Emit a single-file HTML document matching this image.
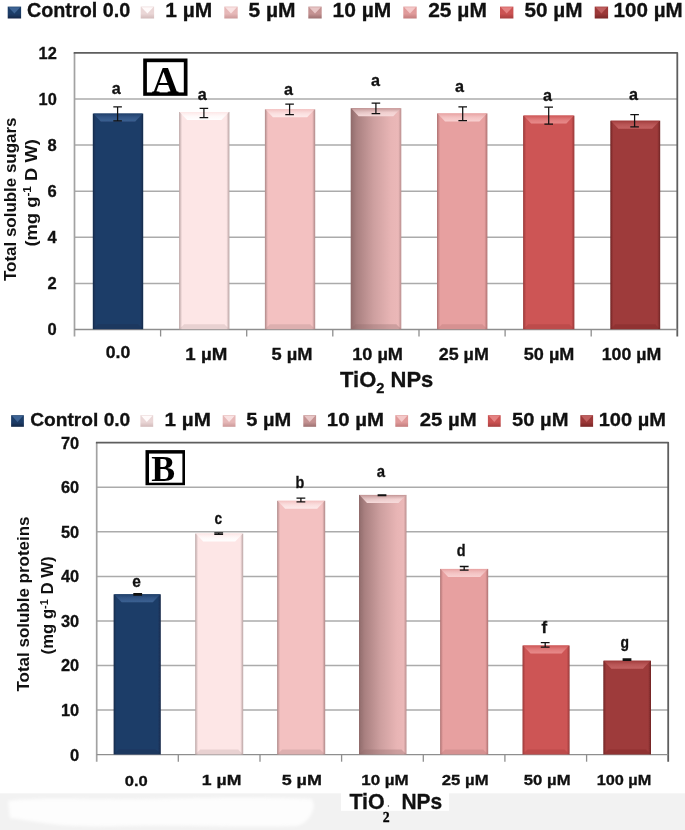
<!DOCTYPE html>
<html lang="en"><head><meta charset="utf-8"><title>TiO2 NPs chart</title>
<style>
html,body{margin:0;padding:0;background:#fff;}
body{width:685px;height:830px;overflow:hidden;}
svg{display:block;font-family:"Liberation Sans", "DejaVu Sans", sans-serif;}
</style></head><body>
<svg width="685" height="830" viewBox="0 0 685 830">
<defs>
<linearGradient id="g10" x1="0" y1="0" x2="1" y2="0"><stop offset="0" stop-color="#8f6a6a"/><stop offset="0.12" stop-color="#a98080"/><stop offset="0.45" stop-color="#cd9f9f"/><stop offset="0.8" stop-color="#e8b5b5"/><stop offset="0.94" stop-color="#ebb8b8"/><stop offset="1" stop-color="#b98e8e"/></linearGradient>
<linearGradient id="e0" x1="0" y1="0" x2="1" y2="0"><stop offset="0" stop-color="#152a4a"/><stop offset="0.06" stop-color="#1f3d68"/><stop offset="0.94" stop-color="#1f3d68"/><stop offset="1" stop-color="#152a4a"/></linearGradient>
<linearGradient id="e1" x1="0" y1="0" x2="1" y2="0"><stop offset="0" stop-color="#b9a3a3"/><stop offset="0.06" stop-color="#fde6e6"/><stop offset="0.94" stop-color="#fde6e6"/><stop offset="1" stop-color="#b9a3a3"/></linearGradient>
<linearGradient id="e2" x1="0" y1="0" x2="1" y2="0"><stop offset="0" stop-color="#ad8888"/><stop offset="0.06" stop-color="#f3c1c1"/><stop offset="0.94" stop-color="#f3c1c1"/><stop offset="1" stop-color="#ad8888"/></linearGradient>
<linearGradient id="e4" x1="0" y1="0" x2="1" y2="0"><stop offset="0" stop-color="#ae7272"/><stop offset="0.06" stop-color="#e7a0a0"/><stop offset="0.94" stop-color="#e7a0a0"/><stop offset="1" stop-color="#ae7272"/></linearGradient>
<linearGradient id="e5" x1="0" y1="0" x2="1" y2="0"><stop offset="0" stop-color="#973838"/><stop offset="0.06" stop-color="#cd5555"/><stop offset="0.94" stop-color="#cd5555"/><stop offset="1" stop-color="#973838"/></linearGradient>
<linearGradient id="e6" x1="0" y1="0" x2="1" y2="0"><stop offset="0" stop-color="#702424"/><stop offset="0.06" stop-color="#9e3a3a"/><stop offset="0.94" stop-color="#9e3a3a"/><stop offset="1" stop-color="#702424"/></linearGradient>
<linearGradient id="bv0" x1="0" y1="0" x2="0" y2="1"><stop offset="0" stop-color="#1f3d68"/><stop offset="0.55" stop-color="#3b6092" stop-opacity="0.75"/><stop offset="1" stop-color="#3b6092"/></linearGradient>
<linearGradient id="bv1" x1="0" y1="0" x2="0" y2="1"><stop offset="0" stop-color="#fde6e6"/><stop offset="0.55" stop-color="#ffffff" stop-opacity="0.75"/><stop offset="1" stop-color="#ffffff"/></linearGradient>
<linearGradient id="bv2" x1="0" y1="0" x2="0" y2="1"><stop offset="0" stop-color="#f3c1c1"/><stop offset="0.55" stop-color="#fdeaea" stop-opacity="0.75"/><stop offset="1" stop-color="#fdeaea"/></linearGradient>
<linearGradient id="bv3" x1="0" y1="0" x2="0" y2="1"><stop offset="0" stop-color="#c09292"/><stop offset="0.55" stop-color="#f6dada" stop-opacity="0.75"/><stop offset="1" stop-color="#f6dada"/></linearGradient>
<linearGradient id="bv4" x1="0" y1="0" x2="0" y2="1"><stop offset="0" stop-color="#e7a0a0"/><stop offset="0.55" stop-color="#f8d0d0" stop-opacity="0.75"/><stop offset="1" stop-color="#f8d0d0"/></linearGradient>
<linearGradient id="bv5" x1="0" y1="0" x2="0" y2="1"><stop offset="0" stop-color="#cd5555"/><stop offset="0.55" stop-color="#e88a8a" stop-opacity="0.75"/><stop offset="1" stop-color="#e88a8a"/></linearGradient>
<linearGradient id="bv6" x1="0" y1="0" x2="0" y2="1"><stop offset="0" stop-color="#9e3a3a"/><stop offset="0.55" stop-color="#c46262" stop-opacity="0.75"/><stop offset="1" stop-color="#c46262"/></linearGradient>
<filter id="soft2" x="-5%" y="-20%" width="110%" height="140%"><feGaussianBlur stdDeviation="1.5"/></filter>
<filter id="soft" x="-5%" y="-5%" width="110%" height="110%"><feGaussianBlur stdDeviation="0.5"/></filter>
<linearGradient id="m0" x1="0" y1="0" x2="0" y2="1"><stop offset="0" stop-color="#1f3d68"/><stop offset="0.6" stop-color="#1f3d68"/><stop offset="1" stop-color="#132646"/></linearGradient>
<linearGradient id="m1" x1="0" y1="0" x2="0" y2="1"><stop offset="0" stop-color="#ead6d6"/><stop offset="0.6" stop-color="#ead6d6"/><stop offset="1" stop-color="#d2baba"/></linearGradient>
<linearGradient id="m2" x1="0" y1="0" x2="0" y2="1"><stop offset="0" stop-color="#e6b8b8"/><stop offset="0.6" stop-color="#e6b8b8"/><stop offset="1" stop-color="#cc9999"/></linearGradient>
<linearGradient id="m3" x1="0" y1="0" x2="0" y2="1"><stop offset="0" stop-color="#c49292"/><stop offset="0.6" stop-color="#c49292"/><stop offset="1" stop-color="#9c7070"/></linearGradient>
<linearGradient id="m4" x1="0" y1="0" x2="0" y2="1"><stop offset="0" stop-color="#e09a9a"/><stop offset="0.6" stop-color="#e09a9a"/><stop offset="1" stop-color="#c27c7c"/></linearGradient>
<linearGradient id="m5" x1="0" y1="0" x2="0" y2="1"><stop offset="0" stop-color="#cb5252"/><stop offset="0.6" stop-color="#cb5252"/><stop offset="1" stop-color="#a63e3e"/></linearGradient>
<linearGradient id="m6" x1="0" y1="0" x2="0" y2="1"><stop offset="0" stop-color="#9c3838"/><stop offset="0.6" stop-color="#9c3838"/><stop offset="1" stop-color="#782626"/></linearGradient>
</defs>
<rect x="0" y="0" width="685" height="830" fill="#fff"/>
<rect x="0" y="793.3" width="685" height="37" fill="#f2f2f2"/>
<rect x="341" y="792.5" width="108" height="18.3" fill="#fff"/>
<path d="M8,801 C40,797 90,800 150,799 S260,797 312,799 L314,806 C312,816 306,824 296,826 C240,828 180,824 120,826 S40,822 10,818 Z" fill="#fdfdfd" filter="url(#soft2)"/>
<line x1="74.5" y1="283.4" x2="677.3" y2="283.4" stroke="#ababab" stroke-width="1.5"/>
<line x1="74.5" y1="237.3" x2="677.3" y2="237.3" stroke="#ababab" stroke-width="1.5"/>
<line x1="74.5" y1="191.2" x2="677.3" y2="191.2" stroke="#ababab" stroke-width="1.5"/>
<line x1="74.5" y1="145.0" x2="677.3" y2="145.0" stroke="#ababab" stroke-width="1.5"/>
<line x1="74.5" y1="98.9" x2="677.3" y2="98.9" stroke="#ababab" stroke-width="1.5"/>
<path d="M74.5,336.5V52.8" stroke="#a2a2a2" stroke-width="1.7" fill="none"/>
<path d="M73.7,52.8H677.3V336.5" stroke="#5e5e5e" stroke-width="1.8" fill="none" stroke-linejoin="round"/>
<line x1="74.5" y1="329.5" x2="677.3" y2="329.5" stroke="#8e8e8e" stroke-width="1.3"/>
<line x1="160.6" y1="329.5" x2="160.6" y2="336.5" stroke="#8e8e8e" stroke-width="1.3"/>
<line x1="246.7" y1="329.5" x2="246.7" y2="336.5" stroke="#8e8e8e" stroke-width="1.3"/>
<line x1="332.8" y1="329.5" x2="332.8" y2="336.5" stroke="#8e8e8e" stroke-width="1.3"/>
<line x1="419.0" y1="329.5" x2="419.0" y2="336.5" stroke="#8e8e8e" stroke-width="1.3"/>
<line x1="505.1" y1="329.5" x2="505.1" y2="336.5" stroke="#8e8e8e" stroke-width="1.3"/>
<line x1="591.2" y1="329.5" x2="591.2" y2="336.5" stroke="#8e8e8e" stroke-width="1.3"/>
<g filter="url(#soft)">
<rect x="92.8" y="113.6" width="50.4" height="215.6" fill="url(#e0)"/>
<polygon points="93.3,113.6 142.7,113.6 135.2,121.6 100.8,121.6" fill="url(#bv0)"/>
<polygon points="92.8,329.2 143.2,329.2 138.2,324.2 97.8,324.2" fill="#152a4a" opacity="0.3"/>
</g>
<g filter="url(#soft)">
<rect x="179.1" y="112.0" width="50.3" height="217.2" fill="url(#e1)"/>
<polygon points="179.6,112.0 228.9,112.0 221.4,120.0 187.1,120.0" fill="url(#bv1)"/>
<polygon points="179.1,329.2 229.4,329.2 224.4,324.2 184.1,324.2" fill="#b9a3a3" opacity="0.3"/>
</g>
<g filter="url(#soft)">
<rect x="264.9" y="109.3" width="50.3" height="219.9" fill="url(#e2)"/>
<polygon points="265.4,109.3 314.7,109.3 307.2,117.3 272.9,117.3" fill="url(#bv2)"/>
<polygon points="264.9,329.2 315.2,329.2 310.2,324.2 269.9,324.2" fill="#ad8888" opacity="0.3"/>
</g>
<g filter="url(#soft)">
<rect x="350.7" y="108.2" width="50.6" height="221.0" fill="url(#g10)"/>
<polygon points="351.2,108.2 400.8,108.2 393.3,116.2 358.7,116.2" fill="url(#bv3)"/>
<polygon points="350.7,329.2 401.3,329.2 396.3,324.2 355.7,324.2" fill="#8a6666" opacity="0.3"/>
</g>
<g filter="url(#soft)">
<rect x="437.0" y="113.4" width="50.4" height="215.8" fill="url(#e4)"/>
<polygon points="437.5,113.4 486.9,113.4 479.4,121.4 445.0,121.4" fill="url(#bv4)"/>
<polygon points="437.0,329.2 487.4,329.2 482.4,324.2 442.0,324.2" fill="#ae7272" opacity="0.3"/>
</g>
<g filter="url(#soft)">
<rect x="523.1" y="115.6" width="51.3" height="213.6" fill="url(#e5)"/>
<polygon points="523.6,115.6 573.9,115.6 566.4,123.6 531.1,123.6" fill="url(#bv5)"/>
<polygon points="523.1,329.2 574.4,329.2 569.4,324.2 528.1,324.2" fill="#973838" opacity="0.3"/>
</g>
<g filter="url(#soft)">
<rect x="610.3" y="120.7" width="49.9" height="208.5" fill="url(#e6)"/>
<polygon points="610.8,120.7 659.7,120.7 652.2,128.7 618.3,128.7" fill="url(#bv6)"/>
<polygon points="610.3,329.2 660.2,329.2 655.2,324.2 615.3,324.2" fill="#702424" opacity="0.3"/>
</g>
<path d="M113.3,106.8H121.9M113.3,120.9H121.9M117.6,106.8V120.9" stroke="#111" stroke-width="1.25" fill="none"/>
<path d="M199.6,108.3H208.2M199.6,117.5H208.2M203.9,108.3V117.5" stroke="#111" stroke-width="1.25" fill="none"/>
<path d="M285.3,104.2H293.9M285.3,114.7H293.9M289.6,104.2V114.7" stroke="#111" stroke-width="1.25" fill="none"/>
<path d="M371.6,103.1H380.2M371.6,113.6H380.2M375.9,103.1V113.6" stroke="#111" stroke-width="1.25" fill="none"/>
<path d="M458.4,106.9H467.0M458.4,120.7H467.0M462.7,106.9V120.7" stroke="#111" stroke-width="1.25" fill="none"/>
<path d="M544.4,107.0H553.0M544.4,124.0H553.0M548.7,107.0V124.0" stroke="#111" stroke-width="1.25" fill="none"/>
<path d="M630.3,114.5H638.9M630.3,126.8H638.9M634.6,114.5V126.8" stroke="#111" stroke-width="1.25" fill="none"/>
<text x="116.3" y="94.2" font-size="17.3" text-anchor="middle" font-weight="bold" fill="#111" stroke="#111" stroke-width="0.3" textLength="9.0" lengthAdjust="spacingAndGlyphs" >a</text>
<text x="202.3" y="99.5" font-size="17.3" text-anchor="middle" font-weight="bold" fill="#111" stroke="#111" stroke-width="0.3" textLength="9.0" lengthAdjust="spacingAndGlyphs" >a</text>
<text x="288.5" y="95.2" font-size="17.3" text-anchor="middle" font-weight="bold" fill="#111" stroke="#111" stroke-width="0.3" textLength="9.0" lengthAdjust="spacingAndGlyphs" >a</text>
<text x="375.5" y="85.5" font-size="17.3" text-anchor="middle" font-weight="bold" fill="#111" stroke="#111" stroke-width="0.3" textLength="9.0" lengthAdjust="spacingAndGlyphs" >a</text>
<text x="459.5" y="92.0" font-size="17.3" text-anchor="middle" font-weight="bold" fill="#111" stroke="#111" stroke-width="0.3" textLength="9.0" lengthAdjust="spacingAndGlyphs" >a</text>
<text x="547.5" y="101.0" font-size="17.3" text-anchor="middle" font-weight="bold" fill="#111" stroke="#111" stroke-width="0.3" textLength="9.0" lengthAdjust="spacingAndGlyphs" >a</text>
<text x="633.5" y="100.0" font-size="17.3" text-anchor="middle" font-weight="bold" fill="#111" stroke="#111" stroke-width="0.3" textLength="9.0" lengthAdjust="spacingAndGlyphs" >a</text>
<text x="56.8" y="335.4" font-size="16" text-anchor="end" font-weight="bold" fill="#111" stroke="#111" stroke-width="0.3" textLength="9.2" lengthAdjust="spacingAndGlyphs" >0</text>
<text x="56.8" y="289.3" font-size="16" text-anchor="end" font-weight="bold" fill="#111" stroke="#111" stroke-width="0.3" textLength="9.2" lengthAdjust="spacingAndGlyphs" >2</text>
<text x="56.8" y="243.2" font-size="16" text-anchor="end" font-weight="bold" fill="#111" stroke="#111" stroke-width="0.3" textLength="9.2" lengthAdjust="spacingAndGlyphs" >4</text>
<text x="56.8" y="197.1" font-size="16" text-anchor="end" font-weight="bold" fill="#111" stroke="#111" stroke-width="0.3" textLength="9.2" lengthAdjust="spacingAndGlyphs" >6</text>
<text x="56.8" y="150.9" font-size="16" text-anchor="end" font-weight="bold" fill="#111" stroke="#111" stroke-width="0.3" textLength="9.2" lengthAdjust="spacingAndGlyphs" >8</text>
<text x="56.8" y="104.8" font-size="16" text-anchor="end" font-weight="bold" fill="#111" stroke="#111" stroke-width="0.3" textLength="18.2" lengthAdjust="spacingAndGlyphs" >10</text>
<text x="56.8" y="58.7" font-size="16" text-anchor="end" font-weight="bold" fill="#111" stroke="#111" stroke-width="0.3" textLength="18.2" lengthAdjust="spacingAndGlyphs" >12</text>
<text x="118.0" y="357.6" font-size="16" text-anchor="middle" font-weight="bold" fill="#111" stroke="#111" stroke-width="0.3" textLength="24.5" lengthAdjust="spacingAndGlyphs" >0.0</text>
<text x="206.3" y="360.0" font-size="16" text-anchor="middle" font-weight="bold" fill="#111" stroke="#111" stroke-width="0.3" textLength="42.0" lengthAdjust="spacingAndGlyphs" >1 µM</text>
<text x="292.0" y="360.0" font-size="16" text-anchor="middle" font-weight="bold" fill="#111" stroke="#111" stroke-width="0.3" textLength="41.0" lengthAdjust="spacingAndGlyphs" >5 µM</text>
<text x="377.6" y="360.0" font-size="16" text-anchor="middle" font-weight="bold" fill="#111" stroke="#111" stroke-width="0.3" textLength="50.8" lengthAdjust="spacingAndGlyphs" >10 µM</text>
<text x="463.8" y="360.0" font-size="16" text-anchor="middle" font-weight="bold" fill="#111" stroke="#111" stroke-width="0.3" textLength="50.0" lengthAdjust="spacingAndGlyphs" >25 µM</text>
<text x="549.1" y="360.0" font-size="16" text-anchor="middle" font-weight="bold" fill="#111" stroke="#111" stroke-width="0.3" textLength="50.5" lengthAdjust="spacingAndGlyphs" >50 µM</text>
<text x="631.5" y="360.0" font-size="16" text-anchor="middle" font-weight="bold" fill="#111" stroke="#111" stroke-width="0.3" textLength="59.6" lengthAdjust="spacingAndGlyphs" >100 µM</text>
<text x="340" y="387" font-size="22.5" font-weight="bold" fill="#111" stroke="#111" stroke-width="0.3" textLength="93.3" lengthAdjust="spacingAndGlyphs">TiO<tspan font-size="15" dy="6.4">2</tspan><tspan dy="-6.4"> NPs</tspan></text>
<text transform="translate(16,281) rotate(-90)" font-size="17" font-weight="bold" fill="#111" textLength="163.5" lengthAdjust="spacingAndGlyphs">Total soluble sugars</text>
<text transform="translate(36.6,246.6) rotate(-90)" font-size="17" font-weight="bold" fill="#111" textLength="107.5" lengthAdjust="spacingAndGlyphs">(mg g<tspan font-size="11" dy="-6">-1</tspan><tspan dy="6"> D W)</tspan></text>
<rect x="143.2" y="58.5" width="44.3" height="37.3" fill="#000"/>
<rect x="146.9" y="62.2" width="36.9" height="30.2" fill="#fff"/>
<text x="165.3" y="92.6" font-size="37.5" text-anchor="middle" font-weight="bold" fill="#000" stroke="#000" stroke-width="0" font-family='"Liberation Serif", "DejaVu Serif", serif' >A</text>
<g filter="url(#soft)"><rect x="7.7" y="6.6" width="13.4" height="11.9" fill="url(#m0)"/>
<polygon points="8.5,7.2 20.3,7.2 14.4,13.5" fill="#3d6494"/></g>
<text x="26.9" y="16.8" font-size="19.8" text-anchor="start" font-weight="bold" fill="#111" stroke="#111" stroke-width="0.3" textLength="103.4" lengthAdjust="spacingAndGlyphs" >Control 0.0</text>
<g filter="url(#soft)"><rect x="140.7" y="6.6" width="13.4" height="11.9" fill="url(#m1)"/>
<polygon points="141.5,7.2 153.3,7.2 147.4,13.5" fill="#fffafa"/></g>
<text x="165.2" y="16.8" font-size="19.8" text-anchor="start" font-weight="bold" fill="#111" stroke="#111" stroke-width="0.3" textLength="47.0" lengthAdjust="spacingAndGlyphs" >1 µM</text>
<g filter="url(#soft)"><rect x="224.3" y="6.6" width="13.4" height="11.9" fill="url(#m2)"/>
<polygon points="225.1,7.2 236.9,7.2 231.0,13.5" fill="#f9e2e2"/></g>
<text x="248.5" y="16.8" font-size="19.8" text-anchor="start" font-weight="bold" fill="#111" stroke="#111" stroke-width="0.3" textLength="47.1" lengthAdjust="spacingAndGlyphs" >5 µM</text>
<g filter="url(#soft)"><rect x="308.3" y="6.6" width="13.4" height="11.9" fill="url(#m3)"/>
<polygon points="309.1,7.2 320.9,7.2 315.0,13.5" fill="#e8c6c6"/></g>
<text x="332.5" y="16.8" font-size="19.8" text-anchor="start" font-weight="bold" fill="#111" stroke="#111" stroke-width="0.3" textLength="58.8" lengthAdjust="spacingAndGlyphs" >10 µM</text>
<g filter="url(#soft)"><rect x="403.3" y="6.6" width="13.4" height="11.9" fill="url(#m4)"/>
<polygon points="404.1,7.2 415.9,7.2 410.0,13.5" fill="#f4c8c8"/></g>
<text x="428.2" y="16.8" font-size="19.8" text-anchor="start" font-weight="bold" fill="#111" stroke="#111" stroke-width="0.3" textLength="58.7" lengthAdjust="spacingAndGlyphs" >25 µM</text>
<g filter="url(#soft)"><rect x="500.0" y="6.6" width="13.4" height="11.9" fill="url(#m5)"/>
<polygon points="500.8,7.2 512.6,7.2 506.7,13.5" fill="#e48282"/></g>
<text x="524.5" y="16.8" font-size="19.8" text-anchor="start" font-weight="bold" fill="#111" stroke="#111" stroke-width="0.3" textLength="58.1" lengthAdjust="spacingAndGlyphs" >50 µM</text>
<g filter="url(#soft)"><rect x="594.7" y="6.6" width="13.4" height="11.9" fill="url(#m6)"/>
<polygon points="595.5,7.2 607.3,7.2 601.4,13.5" fill="#bf5e5e"/></g>
<text x="613.5" y="16.8" font-size="19.8" text-anchor="start" font-weight="bold" fill="#111" stroke="#111" stroke-width="0.3" textLength="69.2" lengthAdjust="spacingAndGlyphs" >100 µM</text>
<line x1="96.7" y1="710.1" x2="668.2" y2="710.1" stroke="#ababab" stroke-width="1.5"/>
<line x1="96.7" y1="665.5" x2="668.2" y2="665.5" stroke="#ababab" stroke-width="1.5"/>
<line x1="96.7" y1="620.9" x2="668.2" y2="620.9" stroke="#ababab" stroke-width="1.5"/>
<line x1="96.7" y1="576.4" x2="668.2" y2="576.4" stroke="#ababab" stroke-width="1.5"/>
<line x1="96.7" y1="531.8" x2="668.2" y2="531.8" stroke="#ababab" stroke-width="1.5"/>
<line x1="96.7" y1="487.2" x2="668.2" y2="487.2" stroke="#ababab" stroke-width="1.5"/>
<path d="M96.7,761.7V442.6" stroke="#a2a2a2" stroke-width="1.7" fill="none"/>
<path d="M95.9,442.6H668.2V761.7" stroke="#5e5e5e" stroke-width="1.8" fill="none" stroke-linejoin="round"/>
<line x1="96.7" y1="754.7" x2="668.2" y2="754.7" stroke="#8e8e8e" stroke-width="1.3"/>
<line x1="178.3" y1="754.7" x2="178.3" y2="761.7" stroke="#8e8e8e" stroke-width="1.3"/>
<line x1="260.0" y1="754.7" x2="260.0" y2="761.7" stroke="#8e8e8e" stroke-width="1.3"/>
<line x1="341.6" y1="754.7" x2="341.6" y2="761.7" stroke="#8e8e8e" stroke-width="1.3"/>
<line x1="423.3" y1="754.7" x2="423.3" y2="761.7" stroke="#8e8e8e" stroke-width="1.3"/>
<line x1="504.9" y1="754.7" x2="504.9" y2="761.7" stroke="#8e8e8e" stroke-width="1.3"/>
<line x1="586.6" y1="754.7" x2="586.6" y2="761.7" stroke="#8e8e8e" stroke-width="1.3"/>
<g filter="url(#soft)">
<rect x="113.6" y="594.3" width="47.2" height="160.1" fill="url(#e0)"/>
<polygon points="114.1,594.3 160.3,594.3 152.8,602.3 121.6,602.3" fill="url(#bv0)"/>
<polygon points="113.6,754.4 160.8,754.4 155.8,749.4 118.6,749.4" fill="#152a4a" opacity="0.3"/>
</g>
<g filter="url(#soft)">
<rect x="195.2" y="533.6" width="48.0" height="220.8" fill="url(#e1)"/>
<polygon points="195.7,533.6 242.7,533.6 235.2,541.6 203.2,541.6" fill="url(#bv1)"/>
<polygon points="195.2,754.4 243.2,754.4 238.2,749.4 200.2,749.4" fill="#b9a3a3" opacity="0.3"/>
</g>
<g filter="url(#soft)">
<rect x="277.1" y="500.8" width="48.1" height="253.6" fill="url(#e2)"/>
<polygon points="277.6,500.8 324.7,500.8 317.2,508.8 285.1,508.8" fill="url(#bv2)"/>
<polygon points="277.1,754.4 325.2,754.4 320.2,749.4 282.1,749.4" fill="#ad8888" opacity="0.3"/>
</g>
<g filter="url(#soft)">
<rect x="359.0" y="494.9" width="47.5" height="259.5" fill="url(#g10)"/>
<polygon points="359.5,494.9 406.0,494.9 398.5,502.9 367.0,502.9" fill="url(#bv3)"/>
<polygon points="359.0,754.4 406.5,754.4 401.5,749.4 364.0,749.4" fill="#8a6666" opacity="0.3"/>
</g>
<g filter="url(#soft)">
<rect x="440.1" y="568.9" width="48.1" height="185.5" fill="url(#e4)"/>
<polygon points="440.6,568.9 487.7,568.9 480.2,576.9 448.1,576.9" fill="url(#bv4)"/>
<polygon points="440.1,754.4 488.2,754.4 483.2,749.4 445.1,749.4" fill="#ae7272" opacity="0.3"/>
</g>
<g filter="url(#soft)">
<rect x="522.5" y="645.5" width="47.1" height="108.9" fill="url(#e5)"/>
<polygon points="523.0,645.5 569.1,645.5 561.6,653.5 530.5,653.5" fill="url(#bv5)"/>
<polygon points="522.5,754.4 569.6,754.4 564.6,749.4 527.5,749.4" fill="#973838" opacity="0.3"/>
</g>
<g filter="url(#soft)">
<rect x="603.3" y="660.7" width="47.7" height="93.7" fill="url(#e6)"/>
<polygon points="603.8,660.7 650.5,660.7 643.0,668.7 611.3,668.7" fill="url(#bv6)"/>
<polygon points="603.3,754.4 651.0,754.4 646.0,749.4 608.3,749.4" fill="#702424" opacity="0.3"/>
</g>
<path d="M133.3,593.6H142.1M133.3,595.0H142.1M137.7,593.6V595.0" stroke="#111" stroke-width="1.3" fill="none"/>
<path d="M214.3,532.9H223.1M214.3,534.3H223.1M218.7,532.9V534.3" stroke="#111" stroke-width="1.3" fill="none"/>
<path d="M296.5,498.2H305.3M296.5,501.9H305.3M300.9,498.2V501.9" stroke="#111" stroke-width="1.3" fill="none"/>
<path d="M377.6,494.8H386.4M377.6,495.7H386.4M382.0,494.8V495.7" stroke="#111" stroke-width="1.3" fill="none"/>
<path d="M459.8,566.5H468.6M459.8,570.2H468.6M464.2,566.5V570.2" stroke="#111" stroke-width="1.3" fill="none"/>
<path d="M540.8,642.7H549.6M540.8,647.2H549.6M545.2,642.7V647.2" stroke="#111" stroke-width="1.3" fill="none"/>
<path d="M622.6,659.0H631.4M622.6,660.4H631.4M627.0,659.0V660.4" stroke="#111" stroke-width="1.3" fill="none"/>
<text x="136.6" y="587.0" font-size="16.3" text-anchor="middle" font-weight="bold" fill="#111" stroke="#111" stroke-width="0.3" textLength="8.6" lengthAdjust="spacingAndGlyphs" >e</text>
<text x="218.2" y="523.9" font-size="16.3" text-anchor="middle" font-weight="bold" fill="#111" stroke="#111" stroke-width="0.3" textLength="7.6" lengthAdjust="spacingAndGlyphs" >c</text>
<text x="299.9" y="488.3" font-size="16.3" text-anchor="middle" font-weight="bold" fill="#111" stroke="#111" stroke-width="0.3" textLength="8.8" lengthAdjust="spacingAndGlyphs" >b</text>
<text x="381.0" y="477.4" font-size="16.3" text-anchor="middle" font-weight="bold" fill="#111" stroke="#111" stroke-width="0.3" textLength="8.3" lengthAdjust="spacingAndGlyphs" >a</text>
<text x="461.2" y="556.4" font-size="16.3" text-anchor="middle" font-weight="bold" fill="#111" stroke="#111" stroke-width="0.3" textLength="8.8" lengthAdjust="spacingAndGlyphs" >d</text>
<text x="544.2" y="633.0" font-size="16.3" text-anchor="middle" font-weight="bold" fill="#111" stroke="#111" stroke-width="0.3" textLength="5.6" lengthAdjust="spacingAndGlyphs" >f</text>
<text x="624.8" y="647.6" font-size="16.3" text-anchor="middle" font-weight="bold" fill="#111" stroke="#111" stroke-width="0.3" textLength="8.5" lengthAdjust="spacingAndGlyphs" >g</text>
<text x="79.2" y="760.6" font-size="16" text-anchor="end" font-weight="bold" fill="#111" stroke="#111" stroke-width="0.3" textLength="9.2" lengthAdjust="spacingAndGlyphs" >0</text>
<text x="79.2" y="716.0" font-size="16" text-anchor="end" font-weight="bold" fill="#111" stroke="#111" stroke-width="0.3" textLength="18.2" lengthAdjust="spacingAndGlyphs" >10</text>
<text x="79.2" y="671.4" font-size="16" text-anchor="end" font-weight="bold" fill="#111" stroke="#111" stroke-width="0.3" textLength="18.2" lengthAdjust="spacingAndGlyphs" >20</text>
<text x="79.2" y="626.8" font-size="16" text-anchor="end" font-weight="bold" fill="#111" stroke="#111" stroke-width="0.3" textLength="18.2" lengthAdjust="spacingAndGlyphs" >30</text>
<text x="79.2" y="582.3" font-size="16" text-anchor="end" font-weight="bold" fill="#111" stroke="#111" stroke-width="0.3" textLength="18.2" lengthAdjust="spacingAndGlyphs" >40</text>
<text x="79.2" y="537.7" font-size="16" text-anchor="end" font-weight="bold" fill="#111" stroke="#111" stroke-width="0.3" textLength="18.2" lengthAdjust="spacingAndGlyphs" >50</text>
<text x="79.2" y="493.1" font-size="16" text-anchor="end" font-weight="bold" fill="#111" stroke="#111" stroke-width="0.3" textLength="18.2" lengthAdjust="spacingAndGlyphs" >60</text>
<text x="79.2" y="448.5" font-size="16" text-anchor="end" font-weight="bold" fill="#111" stroke="#111" stroke-width="0.3" textLength="18.2" lengthAdjust="spacingAndGlyphs" >70</text>
<text x="136.3" y="786.0" font-size="15" text-anchor="middle" font-weight="bold" fill="#111" stroke="#111" stroke-width="0.3" textLength="23.0" lengthAdjust="spacingAndGlyphs" >0.0</text>
<text x="221.6" y="784.8" font-size="15" text-anchor="middle" font-weight="bold" fill="#111" stroke="#111" stroke-width="0.3" textLength="39.6" lengthAdjust="spacingAndGlyphs" >1 µM</text>
<text x="301.8" y="784.8" font-size="15" text-anchor="middle" font-weight="bold" fill="#111" stroke="#111" stroke-width="0.3" textLength="40.3" lengthAdjust="spacingAndGlyphs" >5 µM</text>
<text x="385.0" y="784.8" font-size="15" text-anchor="middle" font-weight="bold" fill="#111" stroke="#111" stroke-width="0.3" textLength="47.6" lengthAdjust="spacingAndGlyphs" >10 µM</text>
<text x="465.2" y="784.8" font-size="15" text-anchor="middle" font-weight="bold" fill="#111" stroke="#111" stroke-width="0.3" textLength="46.8" lengthAdjust="spacingAndGlyphs" >25 µM</text>
<text x="547.2" y="784.8" font-size="15" text-anchor="middle" font-weight="bold" fill="#111" stroke="#111" stroke-width="0.3" textLength="46.8" lengthAdjust="spacingAndGlyphs" >50 µM</text>
<text x="624.0" y="784.8" font-size="15" text-anchor="middle" font-weight="bold" fill="#111" stroke="#111" stroke-width="0.3" textLength="54.7" lengthAdjust="spacingAndGlyphs" >100 µM</text>
<text x="349.4" y="808.6" font-size="22" font-weight="bold" fill="#111" stroke="#111" stroke-width="0.3" textLength="35.4" lengthAdjust="spacingAndGlyphs">TiO</text>
<text x="401.4" y="808.6" font-size="22" font-weight="bold" fill="#111" stroke="#111" stroke-width="0.3" textLength="40.8" lengthAdjust="spacingAndGlyphs">NPs</text>
<text x="386.3" y="822.0" font-size="13.8" text-anchor="middle" font-weight="bold" fill="#000" stroke="#000" stroke-width="0.3" font-family='"Liberation Serif", "DejaVu Serif", serif' >2</text>
<circle cx="388.4" cy="806" r="0.7" fill="#444"/>
<text transform="translate(28.6,691.5) rotate(-90)" font-size="16" font-weight="bold" fill="#111" textLength="175" lengthAdjust="spacingAndGlyphs">Total soluble proteins</text>
<text transform="translate(53,654.4) rotate(-90)" font-size="16" font-weight="bold" fill="#111" textLength="98" lengthAdjust="spacingAndGlyphs">(mg g<tspan font-size="10.5" dy="-5.5">-1</tspan><tspan dy="5.5"> D W)</tspan></text>
<rect x="145.5" y="450.1" width="39.5" height="35.1" fill="#000"/>
<rect x="149.0" y="453.6" width="33.4" height="29.1" fill="#fff"/>
<text x="163.1" y="481.3" font-size="35.8" text-anchor="middle" font-weight="bold" fill="#000" stroke="#000" stroke-width="0" font-family='"Liberation Serif", "DejaVu Serif", serif' >B</text>
<g filter="url(#soft)"><rect x="11.1" y="415.2" width="12.8" height="11.6" fill="url(#m0)"/>
<polygon points="11.9,415.8 23.1,415.8 17.5,421.9" fill="#3d6494"/></g>
<text x="30.2" y="425.9" font-size="19" text-anchor="start" font-weight="bold" fill="#111" stroke="#111" stroke-width="0.3" textLength="100.1" lengthAdjust="spacingAndGlyphs" >Control 0.0</text>
<g filter="url(#soft)"><rect x="140.4" y="415.2" width="12.8" height="11.6" fill="url(#m1)"/>
<polygon points="141.2,415.8 152.4,415.8 146.8,421.9" fill="#fffafa"/></g>
<text x="164.5" y="425.9" font-size="19" text-anchor="start" font-weight="bold" fill="#111" stroke="#111" stroke-width="0.3" textLength="46.4" lengthAdjust="spacingAndGlyphs" >1 µM</text>
<g filter="url(#soft)"><rect x="222.7" y="415.2" width="12.8" height="11.6" fill="url(#m2)"/>
<polygon points="223.5,415.8 234.7,415.8 229.1,421.9" fill="#f9e2e2"/></g>
<text x="246.2" y="425.9" font-size="19" text-anchor="start" font-weight="bold" fill="#111" stroke="#111" stroke-width="0.3" textLength="45.0" lengthAdjust="spacingAndGlyphs" >5 µM</text>
<g filter="url(#soft)"><rect x="303.3" y="415.2" width="12.8" height="11.6" fill="url(#m3)"/>
<polygon points="304.1,415.8 315.3,415.8 309.7,421.9" fill="#e8c6c6"/></g>
<text x="326.8" y="425.9" font-size="19" text-anchor="start" font-weight="bold" fill="#111" stroke="#111" stroke-width="0.3" textLength="57.1" lengthAdjust="spacingAndGlyphs" >10 µM</text>
<g filter="url(#soft)"><rect x="395.3" y="415.2" width="12.8" height="11.6" fill="url(#m4)"/>
<polygon points="396.1,415.8 407.3,415.8 401.7,421.9" fill="#f4c8c8"/></g>
<text x="419.8" y="425.9" font-size="19" text-anchor="start" font-weight="bold" fill="#111" stroke="#111" stroke-width="0.3" textLength="57.0" lengthAdjust="spacingAndGlyphs" >25 µM</text>
<g filter="url(#soft)"><rect x="487.9" y="415.2" width="12.8" height="11.6" fill="url(#m5)"/>
<polygon points="488.7,415.8 499.9,415.8 494.3,421.9" fill="#e48282"/></g>
<text x="512.1" y="425.9" font-size="19" text-anchor="start" font-weight="bold" fill="#111" stroke="#111" stroke-width="0.3" textLength="56.4" lengthAdjust="spacingAndGlyphs" >50 µM</text>
<g filter="url(#soft)"><rect x="580.3" y="415.2" width="12.8" height="11.6" fill="url(#m6)"/>
<polygon points="581.1,415.8 592.3,415.8 586.7,421.9" fill="#bf5e5e"/></g>
<text x="598.7" y="425.9" font-size="19" text-anchor="start" font-weight="bold" fill="#111" stroke="#111" stroke-width="0.3" textLength="67.2" lengthAdjust="spacingAndGlyphs" >100 µM</text>
</svg>
</body></html>
